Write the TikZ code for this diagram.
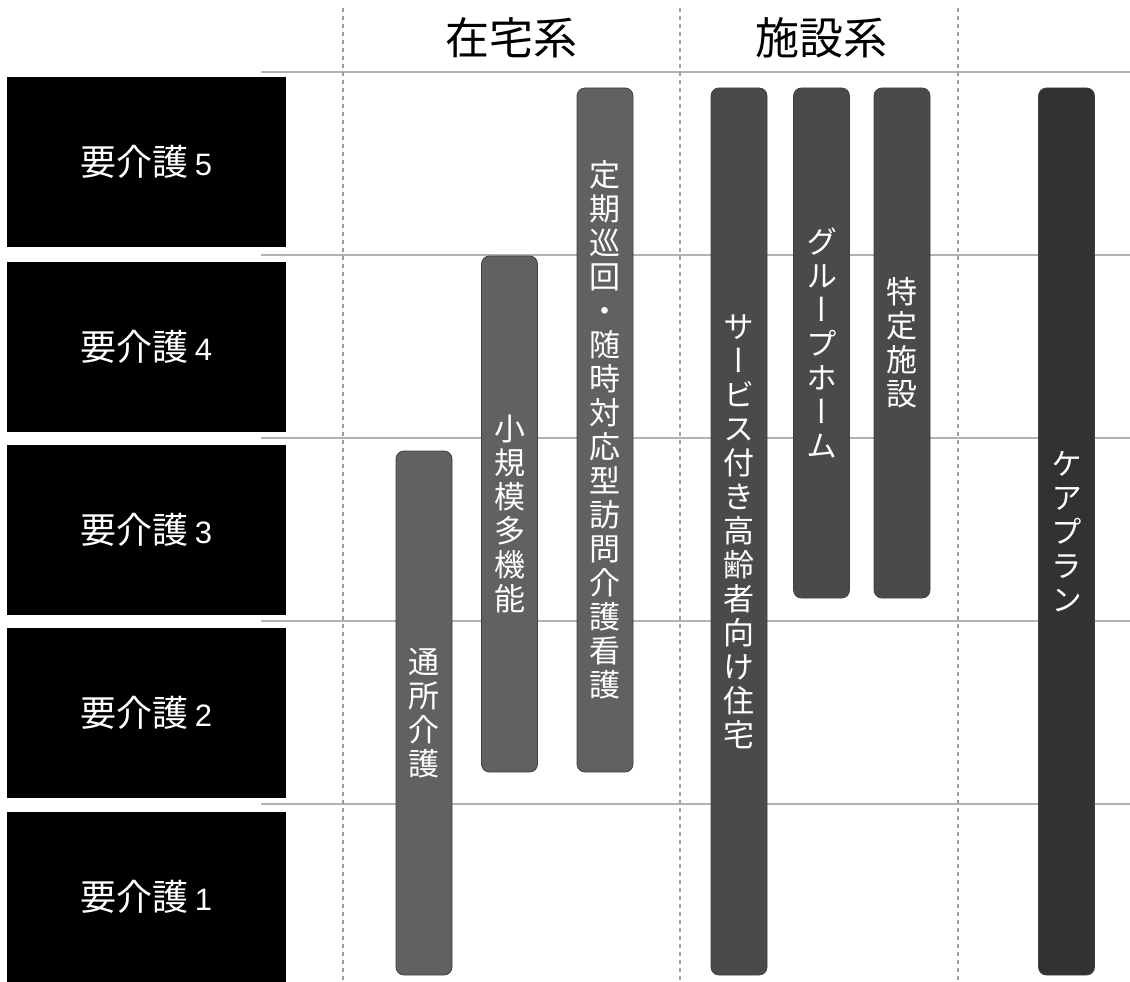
\documentclass[tikz,border=0pt]{standalone}
\usepackage{fontspec}
\newfontfamily\jp{Noto Sans CJK JP}
\newfontfamily\jpv[RawFeature=+vert]{Noto Sans CJK JP}
\newfontfamily\digits{Liberation Sans}
\definecolor{barA}{HTML}{616161}
\definecolor{barB}{HTML}{4A4A4A}
\definecolor{barC}{HTML}{323232}
\definecolor{rulegrey}{HTML}{B2B2B2}
\definecolor{gridgrey}{HTML}{9C9C9C}
\def\vchars#1{\ifx#1\relax\else\hbox to 34pt{\hss#1\hss}\expandafter\vchars\fi}
\newcommand\vtext[1]{\vbox{\jpv\fontsize{31pt}{34pt}\selectfont\baselineskip=34pt\lineskiplimit=-100pt\vchars#1\relax}}
\begin{document}
\begin{tikzpicture}[x=1pt,y=-1pt,
  lvl/.style={fill=black,text=white,minimum width=279,minimum height=170,inner sep=0,font=\jp\fontsize{36pt}{36pt}\selectfont},
  bar/.style={rounded corners=8pt,minimum width=56,minimum height=#1,inner sep=0,text=white,draw=black!75,line width=0.8pt},
  head/.style={font=\jp\fontsize{44pt}{44pt}\selectfont}]
\useasboundingbox (0,0) rectangle (1130,982);
%\draw[pink, fill] (0,0) rectangle (1130,982);
\foreach \y in {72,255,438,621,804}
  \draw[rulegrey,line width=2pt] (261,\y) -- (1130,\y);
\foreach \x in {343,680,958}
  \draw[gridgrey,line width=1.5pt,dash pattern=on 4pt off 4pt] (\x,8) -- (\x,982);
\node[head] (zaitaku) at (511,38) {在宅系};
\node[head] (shisetsu) at (821,38) {施設系};
\foreach \n/\y in {5/162,4/346.5,3/530,2/713,1/897}
  \node[lvl] (kaigo\n) at (146.5,\y) {要介護\hspace{6pt}{\digits\fontsize{31pt}{31pt}\selectfont\n}};
\node[bar=524,fill=barA] (tsusho) at (424,713) {\vtext{通所介護}};
\node[bar=516,fill=barA] (shokibo) at (509.5,514) {\vtext{小規模多機能}};
\node[bar=684,fill=barA] (teiki) at (605,430) {\vtext{定期巡回・随時対応型訪問介護看護}};
\node[bar=887,fill=barB] (sakoju) at (739,531.5) {\vtext{サービス付き高齢者向け住宅}};
\node[bar=510,fill=barB] (ghome) at (821.5,343) {\vtext{グループホーム}};
\node[bar=510,fill=barB] (tokutei) at (902,343) {\vtext{特定施設}};
\node[bar=887,fill=barC] (careplan) at (1066.5,531.5) {\vtext{ケアプラン}};
\end{tikzpicture}
\end{document}
